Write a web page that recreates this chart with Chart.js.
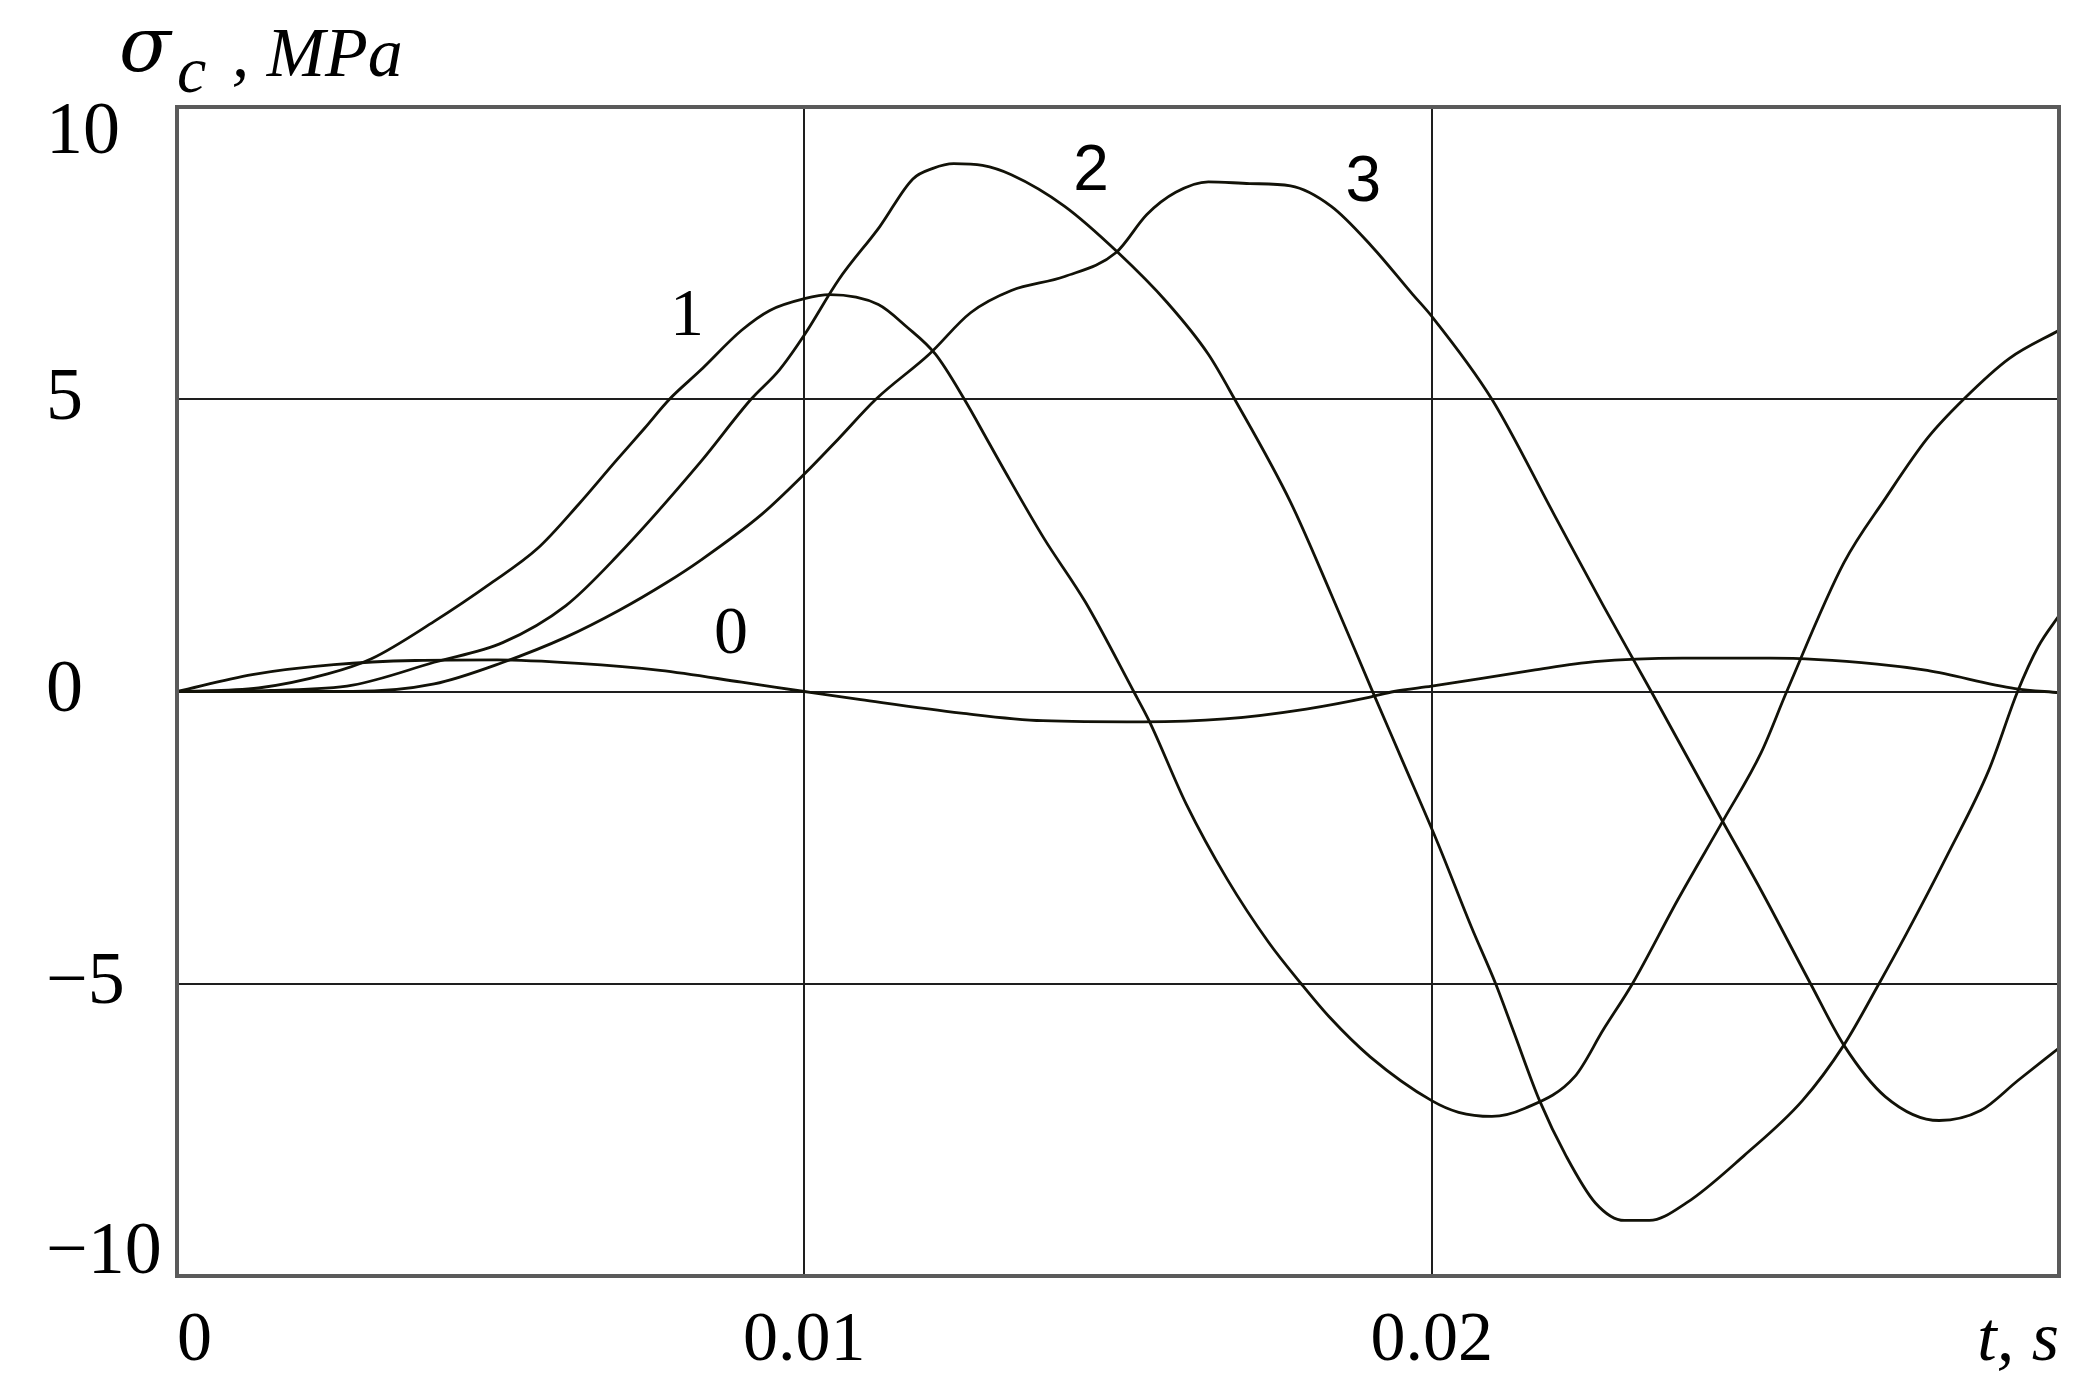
<!DOCTYPE html>
<html>
<head>
<meta charset="utf-8">
<script src="https://cdn.jsdelivr.net/npm/chart.js@4.4.1/dist/chart.umd.min.js"></script>
<style>
  html, body { margin: 0; padding: 0; background: #ffffff; }
  #wrap { position: relative; width: 2099px; height: 1397px; overflow: hidden; }
  canvas { display: block; }
  #ytitle { position: absolute; left: 119px; top: 5px; font: italic 70px "Liberation Serif", serif; color: #000; white-space: nowrap; line-height: 1; }
  #ytitle .sig { font: italic 76px "DejaVu Serif", serif; position: relative; top: -5px; margin-right: 6px; }
  #ytitle .sub { font-size: 66px; position: relative; top: 16px; margin-right: 8px; }
  .clbl { position: absolute; white-space: nowrap; color: #000; line-height: 1; transform: translate(-50%, -50%); }
</style>
</head>
<body>
<div id="wrap">
  <canvas id="c" width="2099" height="1397"></canvas>
  <div id="ytitle"><span class="sig">σ</span><span class="sub">c</span> , MPa</div>
</div>
<script>
// ---- data (t in seconds, sigma in MPa) ----
const t0 = [0, 0.0012, 0.0025, 0.0038, 0.0051, 0.0064, 0.0077, 0.009, 0.01, 0.0109, 0.0125, 0.0138, 0.0154, 0.0167, 0.018, 0.019, 0.0194, 0.02, 0.0216, 0.0226, 0.024, 0.0254, 0.0271, 0.0279, 0.0293, 0.03];
const s0 = [0, 0.29, 0.46, 0.53, 0.54, 0.48, 0.36, 0.16, 0, -0.14, -0.37, -0.5, -0.52, -0.47, -0.3, -0.1, 0, 0.09, 0.36, 0.51, 0.57, 0.57, 0.47, 0.36, 0.05, -0.02];

const t1 = [0, 0.0013, 0.0024, 0.0031, 0.0041, 0.005, 0.00575, 0.0064, 0.007, 0.00745, 0.00785, 0.00834, 0.009, 0.00945, 0.01, 0.0104, 0.01118, 0.01163, 0.01209, 0.01255, 0.01294, 0.01317, 0.01382, 0.01448, 0.01525, 0.0155, 0.01609, 0.01674, 0.0174, 0.01792, 0.01837, 0.01902, 0.02, 0.02043, 0.02096, 0.02149, 0.02228, 0.02274, 0.0232, 0.02393, 0.02465, 0.02525, 0.02566, 0.02657, 0.02723, 0.0279, 0.02848, 0.02921, 0.03];
const s1 = [0, 0.06, 0.3, 0.56, 1.2, 1.85, 2.45, 3.2, 3.95, 4.5, 5.0, 5.49, 6.18, 6.52, 6.72, 6.79, 6.62, 6.24, 5.77, 5.0, 4.26, 3.82, 2.62, 1.53, 0, -0.51, -1.93, -3.21, -4.29, -5.0, -5.57, -6.25, -7.0, -7.2, -7.27, -7.13, -6.59, -5.78, -5.0, -3.55, -2.2, -1.05, 0, 2.2, 3.3, 4.33, 5.0, 5.7, 6.18];

const t2 = [0, 0.0015, 0.0028, 0.0041, 0.0052, 0.0062, 0.007, 0.00834, 0.00915, 0.0096, 0.01, 0.01055, 0.0112, 0.01173, 0.01205, 0.01238, 0.01284, 0.0133, 0.01415, 0.015, 0.01578, 0.01644, 0.01686, 0.01775, 0.0184, 0.01905, 0.01954, 0.0201, 0.02063, 0.02102, 0.0213, 0.02172, 0.02214, 0.02261, 0.02307, 0.02347, 0.02406, 0.02498, 0.02591, 0.02657, 0.02713, 0.02756, 0.02822, 0.02888, 0.02934, 0.02967, 0.03];
const s2 = [0, 0.02, 0.11, 0.5, 0.84, 1.47, 2.3, 3.92, 5.0, 5.5, 6.1, 7.05, 7.95, 8.77, 8.95, 9.03, 9.0, 8.84, 8.3, 7.51, 6.66, 5.77, 5.0, 3.24, 1.66, 0.02, -1.2, -2.6, -4.02, -5.0, -5.8, -7.0, -7.94, -8.75, -9.05, -9.05, -8.75, -7.94, -7.0, -6.05, -5.0, -4.16, -2.8, -1.35, 0, 0.77, 1.3];

const t3 = [0, 0.0028, 0.0041, 0.0052, 0.0062, 0.00705, 0.0078, 0.00834, 0.00932, 0.01, 0.01055, 0.01114, 0.01199, 0.01265, 0.0133, 0.01415, 0.01497, 0.01546, 0.01592, 0.01644, 0.0171, 0.01775, 0.0184, 0.01905, 0.0197, 0.02, 0.02096, 0.02195, 0.02274, 0.0235, 0.02459, 0.02525, 0.02604, 0.02657, 0.02723, 0.02809, 0.02875, 0.02934, 0.03];
const s3 = [0, 0, 0.13, 0.5, 0.93, 1.39, 1.86, 2.24, 3.03, 3.72, 4.33, 5.0, 5.77, 6.48, 6.86, 7.1, 7.51, 8.16, 8.54, 8.72, 8.69, 8.65, 8.3, 7.61, 6.79, 6.42, 5.0, 3.03, 1.46, 0, -2.13, -3.4, -5.0, -6.05, -6.93, -7.34, -7.17, -6.66, -6.1];

// ---- ticks ----
const xTickValues = [0, 0.01, 0.02, 0.03];
const xTickLabels = ['0', '0.01', '0.02', 't, s'];
const yTickValues = [-10, -5, 0, 5, 10];
const yTickLabels = ['\u221210', '\u22125', '0', '5', '10'];

// ---- curve labels (text and data-coordinate anchors) ----
const curveLabelText = ['0', '1', '2', '3'];
const curveLabelT = [0.00883, 0.00813, 0.01457, 0.01891];
const curveLabelV = [1.05, 6.5, 8.96, 8.77];
const curveLabelSerif = [true, true, false, false];

const toXY = (ts, ss) => ts.map((t, i) => ({ x: t, y: ss[i] }));
const lineColor = '#121208';
function ds(ts, ss) {
  return {
    data: toXY(ts, ss),
    borderColor: lineColor,
    borderWidth: 2.8,
    pointRadius: 0,
    fill: false,
    cubicInterpolationMode: 'monotone'
  };
}

const framePlugin = {
  id: 'frame',
  afterDatasetsDraw(chart) {
    const { ctx, chartArea: a } = chart;
    ctx.save();
    ctx.strokeStyle = '#5a5a5a';
    ctx.lineWidth = 4;
    ctx.strokeRect(a.left, a.top, a.right - a.left, a.bottom - a.top);
    ctx.restore();
  }
};

const labelPlugin = {
  id: 'curveLabels',
  afterRender(chart) {
    const wrap = document.getElementById('wrap');
    const xs = chart.scales.x, ys = chart.scales.y;
    curveLabelText.forEach((txt, i) => {
      let el = document.getElementById('clbl' + i);
      if (!el) {
        el = document.createElement('div');
        el.id = 'clbl' + i;
        el.className = 'clbl';
        el.textContent = txt;
        el.style.font = curveLabelSerif[i] ? '68px "Liberation Serif", serif' : '64px "Liberation Sans", sans-serif';
        wrap.appendChild(el);
      }
      el.style.left = xs.getPixelForValue(curveLabelT[i]) + 'px';
      el.style.top = ys.getPixelForValue(curveLabelV[i]) + 'px';
    });
  }
};

const lastY = yTickLabels.length - 1;

new Chart(document.getElementById('c'), {
  type: 'line',
  data: { datasets: [ds(t0, s0), ds(t1, s1), ds(t2, s2), ds(t3, s3)] },
  options: {
    responsive: false,
    devicePixelRatio: 1,
    animation: false,
    events: [],
    layout: { padding: { left: 46, right: 40, top: 107, bottom: 0 } },
    plugins: { legend: { display: false }, tooltip: { enabled: false }, title: { display: false } },
    scales: {
      x: {
        type: 'linear',
        min: 0, max: 0.03,
        afterBuildTicks: s => { s.ticks = xTickValues.map(v => ({ value: v })); },
        afterFit: s => { s.height = 121; },
        ticks: {
          autoSkip: false,
          maxRotation: 0,
          align: 'inner',
          padding: 24,
          color: '#000',
          font: ctx => ({ family: '"Liberation Serif", serif', size: 70, style: ctx.index === 3 ? 'italic' : 'normal' }),
          callback: (v, i) => xTickLabels[i]
        },
        grid: { color: '#1e1e1e', lineWidth: 2, drawTicks: false },
        border: { display: false }
      },
      y: {
        type: 'linear',
        min: -10, max: 10,
        afterBuildTicks: s => { s.ticks = yTickValues.map(v => ({ value: v })); },
        afterFit: s => { s.width = 131; },
        ticks: {
          autoSkip: false,
          crossAlign: 'far',
          color: '#000',
          font: ctx => ({
            family: '"Liberation Serif", serif', size: 74,
            lineHeight: ctx.index === lastY ? '54px' : (ctx.index === 0 ? '44px' : 1.2)
          }),
          // edge labels are nudged inside the frame, as in the original
          callback: (v, i) => i === lastY ? ['', yTickLabels[i]] : (i === 0 ? [yTickLabels[i], ''] : yTickLabels[i])
        },
        grid: { color: '#1e1e1e', lineWidth: 2, drawTicks: false },
        border: { display: false }
      }
    }
  },
  plugins: [framePlugin, labelPlugin]
});
</script>
</body>
</html>
